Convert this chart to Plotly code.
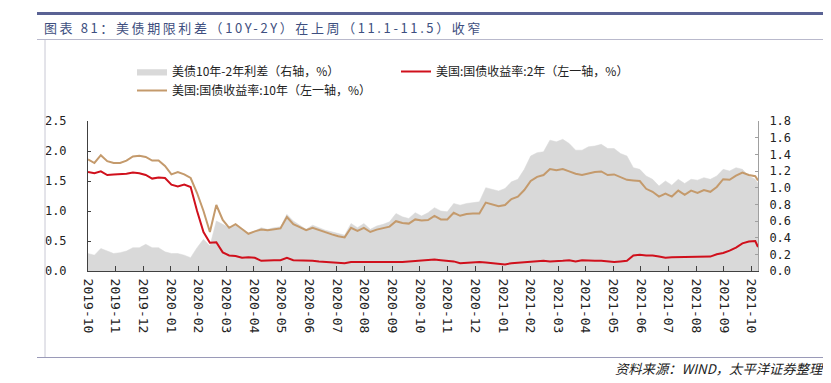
import pandas as pd
import plotly.graph_objects as go

# ---------------- data ----------------
dates = list(pd.date_range("2019-11-05", periods=105, freq="7D")) + [pd.Timestamp("2021-11-05")]

yield_10y = [
    1.86, 1.80, 1.93, 1.83, 1.80, 1.80, 1.84, 1.91, 1.92, 1.90,
    1.84, 1.84, 1.75, 1.61, 1.65, 1.61, 1.55, 1.30, 1.00, 0.65,
    1.10, 0.85, 0.72, 0.78, 0.70, 0.62, 0.66, 0.69, 0.68, 0.70,
    0.71, 0.90, 0.78, 0.73, 0.68, 0.72, 0.68, 0.64, 0.61, 0.58,
    0.56, 0.72, 0.67, 0.72, 0.65, 0.69, 0.71, 0.74, 0.83, 0.80,
    0.79, 0.86, 0.84, 0.85, 0.92, 0.86, 0.86, 0.97, 0.92, 0.95,
    0.96, 0.96, 1.14, 1.11, 1.08, 1.10, 1.20, 1.24, 1.35, 1.50,
    1.57, 1.60, 1.70, 1.68, 1.70, 1.66, 1.62, 1.60, 1.63, 1.65,
    1.66, 1.60, 1.61, 1.57, 1.52, 1.51, 1.50, 1.37, 1.32, 1.24,
    1.29, 1.24, 1.34, 1.27, 1.34, 1.30, 1.35, 1.32, 1.40, 1.53,
    1.52, 1.59, 1.64, 1.60, 1.58, 1.51,
]

yield_2y = [
    1.65, 1.63, 1.66, 1.60, 1.61, 1.61, 1.62, 1.64, 1.63, 1.60,
    1.54, 1.56, 1.55, 1.44, 1.41, 1.44, 1.40, 1.00, 0.65, 0.47,
    0.48, 0.31, 0.26, 0.25, 0.22, 0.23, 0.22, 0.17, 0.18, 0.18,
    0.18, 0.22, 0.18, 0.18, 0.18, 0.17, 0.16, 0.15, 0.14, 0.13,
    0.13, 0.15, 0.15, 0.15, 0.15, 0.15, 0.15, 0.15, 0.14, 0.15,
    0.16, 0.17, 0.18, 0.19, 0.19, 0.18, 0.17, 0.16, 0.13, 0.14,
    0.14, 0.15, 0.14, 0.13, 0.12, 0.11, 0.13, 0.14, 0.15, 0.16,
    0.17, 0.17, 0.16, 0.16, 0.17, 0.18, 0.16, 0.18, 0.17, 0.17,
    0.17, 0.16, 0.15, 0.16, 0.17, 0.26, 0.27, 0.26, 0.26, 0.24,
    0.22, 0.23, 0.23, 0.24, 0.24, 0.23, 0.24, 0.24, 0.28, 0.30,
    0.34, 0.39, 0.46, 0.49, 0.50, 0.40,
]

spread_10y_2y = [
    0.21, 0.19, 0.27, 0.24, 0.21, 0.22, 0.24, 0.28, 0.28, 0.32,
    0.28, 0.28, 0.23, 0.21, 0.21, 0.19, 0.16, 0.28, 0.38, 0.30,
    0.60, 0.56, 0.52, 0.55, 0.50, 0.45, 0.48, 0.52, 0.50, 0.52,
    0.53, 0.68, 0.60, 0.55, 0.50, 0.55, 0.52, 0.49, 0.47, 0.45,
    0.43, 0.57, 0.52, 0.57, 0.50, 0.54, 0.56, 0.59, 0.69, 0.65,
    0.63, 0.70, 0.66, 0.70, 0.76, 0.72, 0.71, 0.81, 0.79, 0.81,
    0.82, 0.83, 1.00, 0.98, 0.96, 0.99, 1.07, 1.10, 1.22, 1.38,
    1.42, 1.43, 1.57, 1.55, 1.58, 1.53, 1.45, 1.45, 1.49, 1.50,
    1.52, 1.47, 1.47, 1.41, 1.38, 1.24, 1.22, 1.14, 1.10, 1.02,
    1.08, 1.03, 1.10, 1.05, 1.10, 1.09, 1.12, 1.10, 1.14, 1.22,
    1.20, 1.24, 1.22, 1.14, 1.10, 1.05,
]

tick_labels = [
    "2019-10", "2019-11", "2019-12", "2020-01", "2020-02", "2020-03",
    "2020-04", "2020-05", "2020-06", "2020-07", "2020-08", "2020-09",
    "2020-10", "2020-11", "2020-12", "2021-01", "2021-02", "2021-03",
    "2021-04", "2021-05", "2021-06", "2021-07", "2021-08", "2021-09",
    "2021-10",
]
tick_positions = list(pd.date_range("2019-11-05", periods=len(tick_labels), freq="724h"))

series_names = [
    "美债10年-2年利差（右轴，%）",
    "美国:国债收益率:2年（左一轴，%）",
    "美国:国债收益率:10年（左一轴，%）",
]
title_text = "图表 81：美债期限利差（10Y-2Y）在上周（11.1-11.5）收窄"
source_text = "资料来源：WIND，太平洋证券整理"

# ---------------- layout helpers (page pixel coordinates) ----------------
PAGE_W, PAGE_H = 831, 383
OX, OY = 8, 8                      # default body margin of the html page
W, H = PAGE_W - OX, PAGE_H - OY    # figure size
L, R, T, B = 88, 758, 121, 271     # plot area on the page


def px(x):
    return (x - L) / (R - L)


def py(y):
    return (B - y) / (B - T)


CJK = "Noto Sans CJK SC"
MONO = "DejaVu Sans Mono"

fig = go.Figure()

fig.add_trace(go.Scatter(
    x=dates, y=spread_10y_2y, name=series_names[0], yaxis="y",
    mode="lines", fill="tozeroy", fillcolor="#d9d9d9",
    line=dict(color="#d9d9d9", width=0.5),
))
fig.add_trace(go.Scatter(
    x=dates, y=yield_2y, name=series_names[1], yaxis="y2",
    mode="lines", line=dict(color="#d0101c", width=2),
))
fig.add_trace(go.Scatter(
    x=dates, y=yield_10y, name=series_names[2], yaxis="y2",
    mode="lines", line=dict(color="#c49a6c", width=2),
))

shapes = [
    dict(type="line", xref="paper", yref="paper", x0=px(37), x1=px(831), y0=py(13.5), y1=py(13.5),
         line=dict(color="#5a6294", width=3)),
    dict(type="line", xref="paper", yref="paper", x0=px(37), x1=px(831), y0=py(39.5), y1=py(39.5),
         line=dict(color="#b9b9cc", width=1)),
    dict(type="line", xref="paper", yref="paper", x0=px(45), x1=px(45), y0=py(40), y1=py(357),
         line=dict(color="#c8c8d4", width=1)),
    dict(type="line", xref="paper", yref="paper", x0=px(37), x1=px(831), y0=py(357.5), y1=py(357.5),
         line=dict(color="#9a9ab8", width=1)),
]

annotations = [
    dict(xref="paper", yref="paper", x=px(42), y=py(27), xanchor="left", yanchor="middle",
         text='<span style="letter-spacing:2.6px">' + title_text + "</span>", showarrow=False,
         font=dict(family=CJK, size=13, color="#3e4f80")),
    dict(xref="paper", yref="paper", x=px(826), y=py(368), xanchor="right", yanchor="middle",
         text=source_text, showarrow=False,
         font=dict(family=CJK, size=13.3, color="#222222", style="italic")),
]

fig.update_layout(
    width=W, height=H,
    margin=dict(l=L - OX, r=PAGE_W - R, t=T - OY, b=PAGE_H - B, pad=0, autoexpand=False),
    paper_bgcolor="white", plot_bgcolor="white",
    showlegend=True,
    legend=dict(
        orientation="h", xref="paper", yref="paper",
        x=px(132), y=py(57), xanchor="left", yanchor="top",
        entrywidth=219, entrywidthmode="pixels",
        font=dict(family=CJK, size=12, color="#222222"),
        bgcolor="rgba(0,0,0,0)", borderwidth=0, tracegroupgap=0,
        traceorder="normal",
    ),
    xaxis=dict(
        type="date", range=[dates[0], dates[-1]],
        tickmode="array", tickvals=tick_positions, ticktext=tick_labels,
        tickangle=90, ticks="inside", ticklen=5, tickcolor="#404040",
        showline=True, linecolor="#404040", linewidth=1,
        showgrid=False, zeroline=False,
        tickfont=dict(family=MONO, size=13, color="#222222"),
        ticklabelstandoff=4,
    ),
    yaxis=dict(
        side="right", range=[0, 1.8], dtick=0.2, tick0=0, tickformat=".1f",
        ticks="inside", ticklen=3, tickcolor="#a0a0a0",
        showline=True, linecolor="#a0a0a0", linewidth=1,
        showgrid=False, zeroline=False,
        tickfont=dict(family=MONO, size=12, color="#222222"),
        ticklabelstandoff=8,
    ),
    yaxis2=dict(
        side="left", overlaying="y", range=[0, 2.5], dtick=0.5, tick0=0, tickformat=".1f",
        ticks="inside", ticklen=3, tickcolor="#404040",
        showline=True, linecolor="#404040", linewidth=1,
        showgrid=False, zeroline=False,
        tickfont=dict(family=MONO, size=12, color="#222222"),
        ticklabelstandoff=18,
    ),
    shapes=shapes,
    annotations=annotations,
)

fig.write_html("out.html")
